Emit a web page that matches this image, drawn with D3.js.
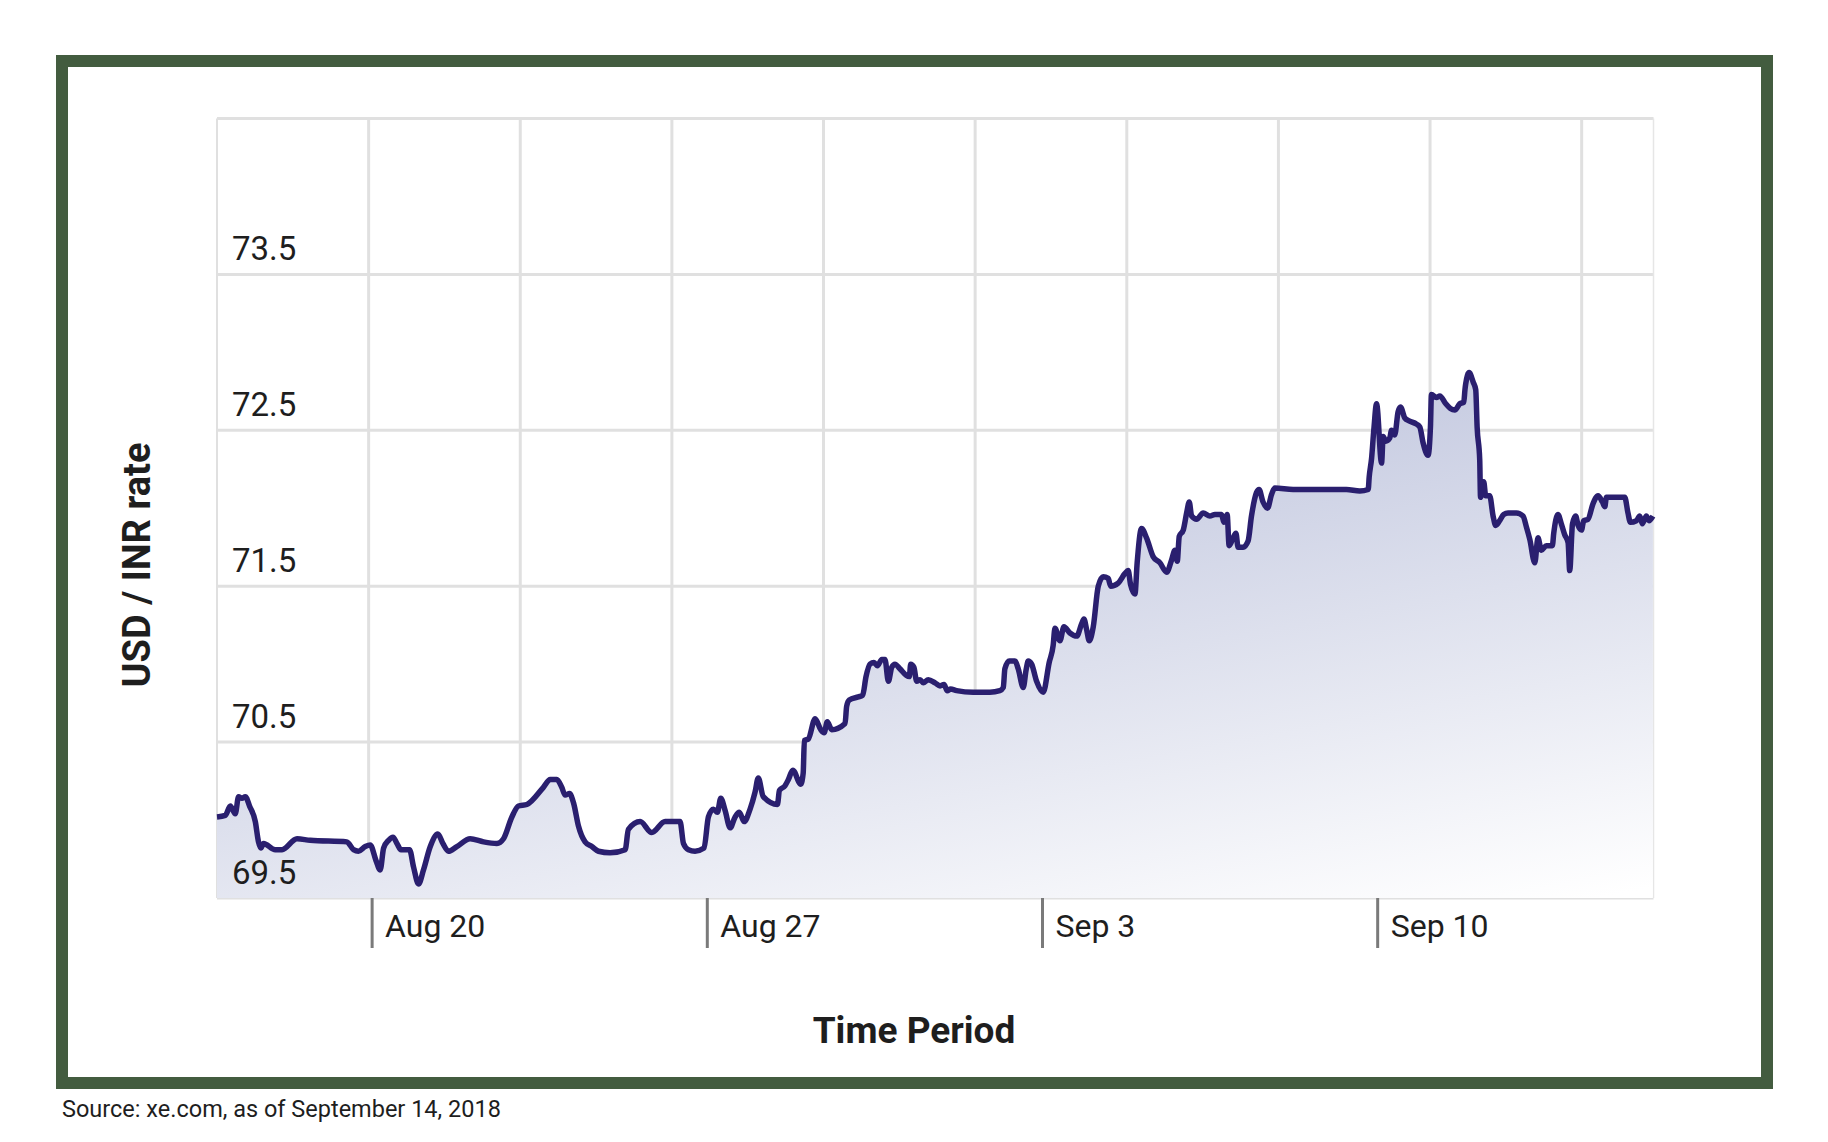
<!DOCTYPE html>
<html>
<head>
<meta charset="utf-8">
<script src="https://cdn.jsdelivr.net/npm/d3@7"></script>
<style>
    body { margin: 0; background: #fff; }
    text { font-family: Roboto, "Open Sans", sans-serif; }
</style>
</head>
<body>
<div id="chart"></div>
<script>
// USD / INR rate, mid August to mid September 2018
var times = [
    "08-16 18:30", "08-16 22:40", "08-17 01:12", "08-17 03:40", "08-17 05:18", "08-17 07:00", "08-17 08:42", "08-17 10:48",
    "08-17 13:42", "08-17 15:18", "08-17 16:30", "08-17 17:48", "08-17 23:42", "08-18 03:06", "08-18 10:36", "08-18 17:12",
    "08-19 11:36", "08-19 14:54", "08-19 17:24", "08-19 20:48", "08-19 23:18", "08-20 02:12", "08-20 04:18", "08-20 06:00",
    "08-20 08:30", "08-20 10:42", "08-20 12:42", "08-20 14:42", "08-20 19:00", "08-20 21:00", "08-20 23:30", "08-21 02:00",
    "08-21 05:24", "08-21 09:12", "08-21 11:42", "08-21 14:30", "08-21 18:42", "08-22 01:24", "08-22 08:06", "08-22 14:48",
    "08-22 18:06", "08-22 22:18", "08-23 01:36", "08-23 05:48", "08-23 14:06", "08-23 17:30", "08-23 20:48", "08-23 23:18",
    "08-24 01:00", "08-24 03:12", "08-24 05:12", "08-24 07:42", "08-24 11:00", "08-24 14:24", "08-24 17:42", "08-24 23:30",
    "08-25 07:06", "08-25 08:42", "08-25 14:36", "08-25 20:24", "08-26 03:06", "08-26 10:36", "08-26 12:18", "08-26 14:48",
    "08-26 18:06", "08-26 22:36", "08-27 00:48", "08-27 03:18", "08-27 05:18", "08-27 07:00", "08-27 09:12", "08-27 11:42",
    "08-27 14:12", "08-27 16:18", "08-27 18:42", "08-27 21:42", "08-28 00:12", "08-28 01:48", "08-28 04:18", "08-28 11:24",
    "08-28 12:24", "08-28 15:12", "08-28 16:54", "08-28 19:06", "08-28 23:06", "08-29 00:18", "08-29 00:54", "08-29 02:54",
    "08-29 06:18", "08-29 09:06", "08-29 10:48", "08-29 12:24", "08-29 14:36", "08-29 21:18", "08-29 22:06", "08-29 23:24",
    "08-30 03:54", "08-30 06:06", "08-30 07:48", "08-30 09:48", "08-30 11:48", "08-30 13:30", "08-30 15:42", "08-30 17:18",
    "08-30 19:00", "08-30 20:42", "08-30 22:18", "08-31 00:48", "08-31 03:48", "08-31 05:30", "08-31 06:12", "08-31 07:48",
    "08-31 09:12", "08-31 10:54", "08-31 12:30", "08-31 15:00", "08-31 18:24", "08-31 20:54", "08-31 22:54", "09-01 00:30",
    "09-01 02:12", "09-01 05:12", "09-01 13:30", "09-01 21:54", "09-02 02:54", "09-02 04:36", "09-02 05:24", "09-02 07:36",
    "09-02 10:24", "09-02 12:06", "09-02 14:36", "09-02 16:00", "09-02 17:06", "09-02 18:48", "09-02 21:18", "09-03 00:36",
    "09-03 03:36", "09-03 05:36", "09-03 06:30", "09-03 09:00", "09-03 11:00", "09-03 14:00", "09-03 17:24", "09-03 19:54",
    "09-03 21:00", "09-03 22:24", "09-03 23:42", "09-04 01:42", "09-04 04:12", "09-04 06:42", "09-04 09:12", "09-04 10:24",
    "09-04 14:12", "09-04 17:30", "09-04 19:12", "09-04 20:24", "09-04 22:36", "09-04 23:42", "09-05 01:54", "09-05 04:24",
    "09-05 07:42", "09-05 11:06", "09-05 14:30", "09-05 17:00", "09-05 18:36", "09-05 19:48", "09-05 20:48", "09-05 22:48",
    "09-06 00:30", "09-06 01:48", "09-06 03:00", "09-06 05:30", "09-06 08:48", "09-06 12:06", "09-06 14:42", "09-06 18:00",
    "09-06 19:12", "09-06 20:48", "09-06 21:48", "09-06 23:30", "09-07 01:12", "09-07 02:18", "09-07 04:48", "09-07 07:18",
    "09-07 09:00", "09-07 11:30", "09-07 12:48", "09-07 14:48", "09-07 17:00", "09-07 19:06", "09-07 20:42", "09-08 05:54",
    "09-08 20:54", "09-09 08:36", "09-09 15:18", "09-09 19:30", "09-09 20:00", "09-09 21:12", "09-09 22:18", "09-09 23:42",
    "09-10 02:12", "09-10 03:00", "09-10 04:18", "09-10 06:18", "09-10 07:12", "09-10 08:48", "09-10 10:30", "09-10 11:42",
    "09-10 13:48", "09-10 16:00", "09-10 19:42", "09-10 21:24", "09-10 23:00", "09-11 01:30", "09-11 02:42", "09-11 03:12",
    "09-11 05:42", "09-11 07:24", "09-11 10:24", "09-11 12:42", "09-11 14:54", "09-11 17:24", "09-11 19:24", "09-11 20:00",
    "09-11 20:24", "09-11 22:06", "09-12 00:06", "09-12 01:24", "09-12 02:06", "09-12 03:24", "09-12 03:48", "09-12 05:24",
    "09-12 06:24", "09-12 08:24", "09-12 10:06", "09-12 11:24", "09-12 13:24", "09-12 15:24", "09-12 17:36", "09-12 21:48",
    "09-13 01:06", "09-13 02:48", "09-13 04:30", "09-13 07:00", "09-13 08:36", "09-13 10:18", "09-13 12:48", "09-13 15:48",
    "09-13 16:30", "09-13 18:36", "09-13 20:18", "09-13 22:00", "09-13 23:42", "09-14 00:30", "09-14 01:54", "09-14 03:30",
    "09-14 04:42", "09-14 06:24", "09-14 07:30", "09-14 09:42", "09-14 12:12", "09-14 14:42", "09-14 16:54", "09-14 18:06",
    "09-14 18:54", "09-15 04:06", "09-15 05:42", "09-15 06:54", "09-15 09:54", "09-15 11:36", "09-15 12:54", "09-15 14:54",
    "09-15 16:12", "09-15 18:12"
];
var rates = [
    70.02, 70.03, 70.09, 70.04, 70.15, 70.14, 70.15, 70.09,
    69.99, 69.86, 69.82, 69.85, 69.81, 69.81, 69.88, 69.87,
    69.86, 69.81, 69.80, 69.83, 69.84, 69.74, 69.68, 69.82,
    69.87, 69.89, 69.85, 69.81, 69.81, 69.70, 69.59, 69.68,
    69.83, 69.91, 69.85, 69.80, 69.83, 69.88, 69.86, 69.85,
    69.88, 70.02, 70.09, 70.10, 70.21, 70.26, 70.26, 70.21,
    70.16, 70.17, 70.11, 69.96, 69.86, 69.83, 69.80, 69.79,
    69.81, 69.94, 69.99, 69.92, 69.99, 69.99, 69.85, 69.81,
    69.80, 69.82, 70.02, 70.07, 70.05, 70.14, 70.06, 69.95,
    70.02, 70.05, 69.99, 70.07, 70.18, 70.27, 70.15, 70.10,
    70.19, 70.22, 70.26, 70.32, 70.23, 70.30, 70.51, 70.52,
    70.65, 70.58, 70.56, 70.63, 70.58, 70.62, 70.73, 70.77,
    70.79, 70.80, 70.92, 71.00, 71.01, 70.99, 71.03, 71.03,
    70.89, 70.98, 71.00, 70.97, 70.93, 70.92, 71.00, 70.98,
    70.89, 70.90, 70.88, 70.90, 70.88, 70.86, 70.87, 70.83,
    70.84, 70.83, 70.82, 70.82, 70.83, 70.85, 70.97, 71.02,
    71.02, 70.97, 70.85, 70.96, 71.02, 71.00, 70.89, 70.82,
    71.01, 71.12, 71.23, 71.15, 71.24, 71.20, 71.18, 71.26,
    71.29, 71.22, 71.15, 71.24, 71.50, 71.56, 71.55, 71.50,
    71.52, 71.58, 71.60, 71.51, 71.45, 71.65, 71.87, 71.81,
    71.69, 71.65, 71.59, 71.67, 71.73, 71.66, 71.82, 71.86,
    71.97, 72.04, 71.95, 71.93, 71.97, 71.95, 71.96, 71.96,
    71.91, 71.96, 71.76, 71.80, 71.84, 71.75, 71.75, 71.79,
    71.95, 72.10, 72.12, 72.04, 72.00, 72.09, 72.13, 72.12,
    72.12, 72.12, 72.11, 72.12, 72.20, 72.32, 72.50, 72.67,
    72.29, 72.46, 72.43, 72.45, 72.50, 72.47, 72.62, 72.65,
    72.58, 72.56, 72.54, 72.52, 72.42, 72.34, 72.52, 72.73,
    72.71, 72.72, 72.67, 72.64, 72.63, 72.67, 72.68, 72.76,
    72.80, 72.87, 72.81, 72.76, 72.52, 72.31, 72.07, 72.17,
    72.08, 72.08, 71.95, 71.89, 71.92, 71.96, 71.97, 71.97,
    71.95, 71.88, 71.80, 71.65, 71.81, 71.73, 71.76, 71.76,
    71.84, 71.96, 71.90, 71.83, 71.78, 71.60, 71.90, 71.95,
    71.89, 71.86, 71.92, 71.93, 72.03, 72.08, 72.04, 72.01,
    72.07, 72.07, 71.97, 71.91, 71.92, 71.95, 71.90, 71.95,
    71.92, 71.95
];
var tickDays = ["08-20 00:00", "08-27 00:00", "09-03 00:00", "09-10 00:00"];
var yTicks = [69.5, 70.5, 71.5, 72.5, 73.5];
var yDomain = [69.5, 74.5];
var timeDomain = ["08-16 18:30", "09-15 18:30"];
var gridHours = 76; // the vertical grid does not follow the date ticks

var chartWidth = 1828;
var chartHeight = 1142;
var plot = { left: 217, right: 1653.5, top: 118.5, bottom: 898 };

var parseTime = d3.timeParse("%Y-%m-%d %H:%M");
function ToDate(s) { return parseTime("2018-" + s); }

var svg = d3.select("#chart").append("svg")
    .attr("width", chartWidth)
    .attr("height", chartHeight)
    .style("display", "block");

var x = d3.scaleTime()
    .domain(timeDomain.map(ToDate))
    .range([plot.left, plot.right]);
var y = d3.scaleLinear()
    .domain(yDomain)
    .range([plot.bottom, plot.top]);

var data = times.map(function(t, i) { return { date: ToDate(t), rate: rates[i] }; });

// fill under the line fades from lavender to white towards bottom-right
var grad = svg.append("defs").append("linearGradient")
    .attr("id", "areaFill")
    .attr("gradientUnits", "userSpaceOnUse")
    .attr("x1", 1000).attr("y1", 458)
    .attr("x2", 1101).attr("y2", 992);
grad.append("stop").attr("offset", 0).attr("stop-color", "#c6cbe1");
grad.append("stop").attr("offset", 1).attr("stop-color", "#ffffff");

// grid
var grid = svg.append("g");
grid.selectAll(".hgrid").data(d3.range(yDomain[0], yDomain[1] + 0.01, 1))
    .enter().append("line")
    .attr("x1", plot.left).attr("x2", plot.right)
    .attr("y1", function(d) { return y(d); })
    .attr("y2", function(d) { return y(d); })
    .style("stroke", "#e0e0e0")
    .style("stroke-width", 3);

var start = x.domain()[0];
var gridDates = d3.range(0, d3.timeHour.count(start, x.domain()[1]), gridHours)
    .map(function(h) { return d3.timeHour.offset(start, h); });
grid.selectAll(".vgrid").data(gridDates)
    .enter().append("line")
    .attr("x1", function(d) { return x(d); })
    .attr("x2", function(d) { return x(d); })
    .attr("y1", plot.top).attr("y2", plot.bottom)
    .style("stroke", "#e0e0e0")
    .style("stroke-width", function(d, i) { return i == 0 ? 2 : 3; });
grid.append("line")
    .attr("x1", plot.right).attr("x2", plot.right)
    .attr("y1", plot.top).attr("y2", plot.bottom)
    .style("stroke", "#e6e6e6")
    .style("stroke-width", 1.5);

// area + line
var area = d3.area()
    .curve(d3.curveMonotoneX)
    .x(function(d) { return x(d.date); })
    .y0(plot.bottom)
    .y1(function(d) { return y(d.rate); });
var line = d3.line()
    .curve(d3.curveMonotoneX)
    .x(function(d) { return x(d.date); })
    .y(function(d) { return y(d.rate); });

svg.append("path").datum(data)
    .attr("d", area)
    .style("fill", "url(#areaFill)");
svg.append("path").datum(data)
    .attr("d", line)
    .style("fill", "none")
    .style("stroke", "#2a1f6f")
    .style("stroke-width", 5.5)
    .style("stroke-linejoin", "round");

// y labels sit inside the plot, just above their gridline
svg.append("g").selectAll("text").data(yTicks)
    .enter().append("text")
    .attr("x", plot.left + 15)
    .attr("y", function(d) { return y(d) - 14; })
    .style("font-size", "33px")
    .style("fill", "#1e1e1e")
    .text(function(d) { return d3.format(".1f")(d); });

// x axis: only the weekly ticks, label to the right of the tick
var xAxis = d3.axisBottom(x)
    .tickValues(tickDays.map(ToDate))
    .tickFormat(d3.timeFormat("%b %-d"))
    .tickSize(50);
var axisG = svg.append("g")
    .attr("transform", "translate(0," + plot.bottom + ")")
    .call(xAxis);
axisG.select(".domain").remove();
axisG.selectAll(".tick line")
    .style("stroke", "#7a7a7a")
    .style("stroke-width", 3);
axisG.selectAll(".tick text")
    .attr("x", 13)
    .attr("y", 39)
    .attr("dy", 0)
    .style("text-anchor", "start")
    .style("font-family", "Roboto, sans-serif")
    .style("font-size", "32px")
    .style("fill", "#1e1e1e");

// titles
svg.append("text")
    .attr("transform", "translate(150,565) rotate(-90)")
    .style("text-anchor", "middle")
    .style("font-size", "38px")
    .style("font-weight", "bold")
    .style("fill", "#1e1e1e")
    .text("USD / INR rate");
svg.append("text")
    .attr("x", 914)
    .attr("y", 1043)
    .style("text-anchor", "middle")
    .style("font-size", "37px")
    .style("font-weight", "bold")
    .style("fill", "#1e1e1e")
    .text("Time Period");
svg.append("text")
    .attr("x", 62)
    .attr("y", 1117)
    .style("font-size", "23.5px")
    .style("fill", "#1e1e1e")
    .text("Source: xe.com, as of September 14, 2018");

// green frame
svg.append("rect")
    .attr("x", 62).attr("y", 61)
    .attr("width", 1705).attr("height", 1022)
    .style("fill", "none")
    .style("stroke", "#435c3f")
    .style("stroke-width", 12);
</script>
</body>
</html>
